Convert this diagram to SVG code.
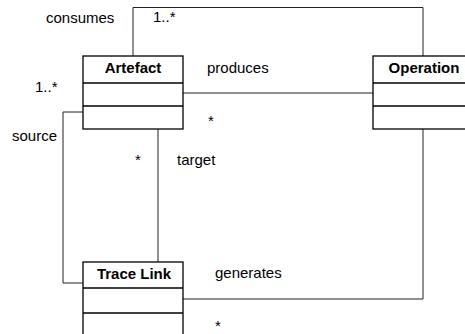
<svg xmlns="http://www.w3.org/2000/svg" width="465" height="334" viewBox="0 0 465 334">
<style>
.box{fill:#fff;stroke:#000;stroke-width:1.3}
.sep{stroke:#000;stroke-width:1.3}
.con{fill:none;stroke:#222;stroke-width:1}
text{font-family:"Liberation Sans",Arial,sans-serif;font-size:15px;fill:#000}
.t{font-weight:bold;text-anchor:middle}
</style>
<rect width="465" height="334" fill="#fff"/>
<g id="connectors">
<polyline class="con" points="133,56 133,7.5 423,7.5 423,56"/>
<line class="con" x1="183" y1="93" x2="373" y2="93"/>
<polyline class="con" points="83,112 63,112 63,283 83,283"/>
<line class="con" x1="158" y1="129" x2="158" y2="262"/>
<polyline class="con" points="183,299 423,299 423,129"/>
</g>
<g id="labels">
<text x="46" y="23">consumes</text>
<text x="153" y="22">1..*</text>
<text x="207" y="73">produces</text>
<text x="35" y="92">1..*</text>
<text x="208" y="126">*</text>
<text x="12" y="141">source</text>
<text x="135" y="165">*</text>
<text x="177" y="165">target</text>
<text x="215" y="278">generates</text>
<text x="215" y="331">*</text>
</g>
<g id="artefact">
<rect class="box" x="83" y="56" width="100" height="73"/>
<line class="sep" x1="83" y1="83" x2="183" y2="83"/>
<line class="sep" x1="83" y1="106" x2="183" y2="106"/>
<text class="t" x="133" y="73">Artefact</text>
</g>
<g id="operation">
<rect class="box" x="373" y="56" width="100" height="73"/>
<line class="sep" x1="373" y1="83" x2="473" y2="83"/>
<line class="sep" x1="373" y1="106" x2="473" y2="106"/>
<text class="t" x="424" y="73">Operation</text>
</g>
<g id="tracelink">
<rect class="box" x="83" y="262" width="100" height="74"/>
<line class="sep" x1="83" y1="288" x2="183" y2="288"/>
<line class="sep" x1="83" y1="313" x2="183" y2="313"/>
<text class="t" x="134" y="279">Trace Link</text>
</g>
</svg>
